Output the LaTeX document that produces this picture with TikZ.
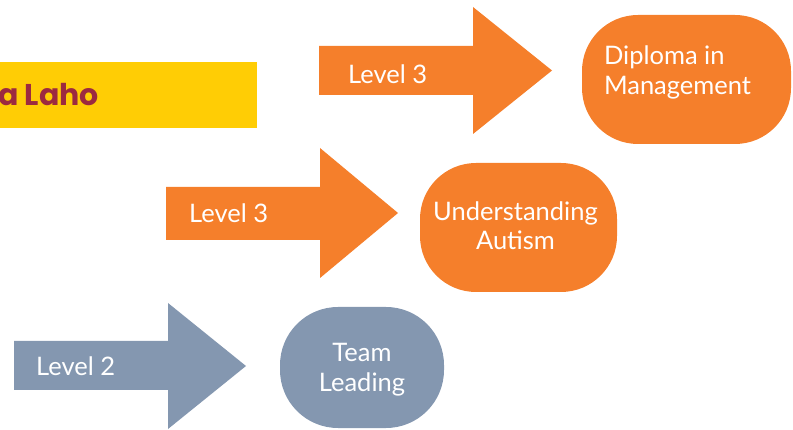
\documentclass[tikz,border=0pt]{standalone}
\usepackage{fontspec}
\setmainfont{Lato}
\newfontfamily\titlefont{Poppins}
\definecolor{orng}{HTML}{F57F2B}
\definecolor{slate}{HTML}{8497B0}
\definecolor{yel}{HTML}{FFCD05}
\definecolor{crim}{HTML}{9C2A40}
\begin{document}
\begin{tikzpicture}[x=1pt,y=-1pt,
  lbl/.style={text=white,font=\fontsize{25.5}{29.5}\selectfont,inner sep=0pt},
  pill/.style={shape=rectangle,rounded corners=56pt,inner sep=0pt},
]
\useasboundingbox (0,0) rectangle (793,430);
% yellow banner
\fill[yel] (0,62) rectangle (257,128);
\node[anchor=west,text=crim,inner sep=0pt,font=\titlefont\bfseries\fontsize{30}{35}\selectfont] (title) at (-2,95) {a Laho};
% arrows
\fill[orng] (319,46) -- (473,46) -- (473,7) -- (552,70.5) -- (473,134) -- (473,95) -- (319,95) -- cycle;
\node[lbl,anchor=west] (l1) at (348,74) {Level 3};
\fill[orng] (166,187) -- (320,187) -- (320,148) -- (398,213) -- (320,278) -- (320,240) -- (166,240) -- cycle;
\node[lbl,anchor=west] (l2) at (189,213) {Level 3};
\fill[slate] (14,341) -- (168,341) -- (168,303) -- (246,366) -- (168,429) -- (168,390) -- (14,390) -- cycle;
\node[lbl,anchor=west] (l3) at (36,366) {Level 2};
% boxes
\node[pill,fill=orng,minimum width=209pt,minimum height=129pt] (dip) at (686.5,79.5) {};
\node[lbl,align=left,anchor=north west] (diptxt) at ([xshift=22pt,yshift=-31pt]dip.north west) {Diploma in\\Management};
\node[pill,fill=orng,minimum width=197pt,minimum height=129pt] (aut) at (518.5,227.5) {};
\node[lbl,align=center] (auttxt) at ([xshift=-3pt,yshift=2pt]aut.center) {Understanding\\Autism};
\node[pill,fill=slate,rounded corners=58pt,minimum width=164pt,minimum height=121pt] (team) at (362,367.5) {};
\node[lbl,align=center] (teamtxt) at ([yshift=-2pt]team.center) {Team\\Leading};
\end{tikzpicture}
\end{document}
